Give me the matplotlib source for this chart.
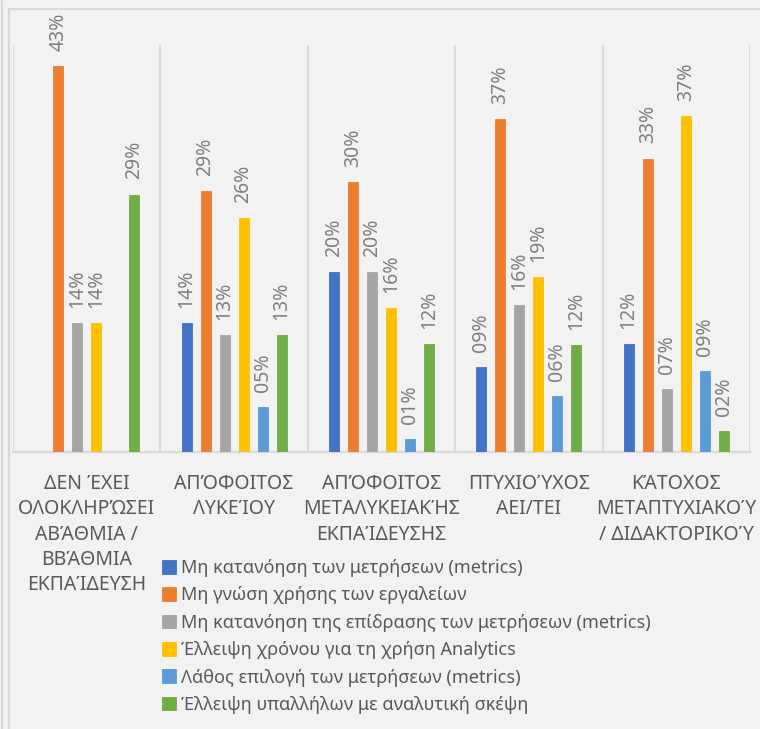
import numpy as np
import matplotlib
matplotlib.use("Agg")
import matplotlib.pyplot as plt
from matplotlib.lines import Line2D

plt.rcParams['font.family'] = ['Noto Sans', 'DejaVu Sans']

categories = [
    "ΔΕΝ ΈΧΕΙ\nΟΛΟΚΛΗΡΏΣΕΙ\nΑΒΆΘΜΙΑ /\nΒΒΆΘΜΙΑ\nΕΚΠΑΊΔΕΥΣΗ",
    "ΑΠΌΦΟΙΤΟΣ\nΛΥΚΕΊΟΥ",
    "ΑΠΌΦΟΙΤΟΣ\nΜΕΤΑΛΥΚΕΙΑΚΉΣ\nΕΚΠΑΊΔΕΥΣΗΣ",
    "ΠΤΥΧΙΟΎΧΟΣ\nΑΕΙ/ΤΕΙ",
    "ΚΆΤΟΧΟΣ\nΜΕΤΑΠΤΥΧΙΑΚΟΎ\n/ ΔΙΔΑΚΤΟΡΙΚΟΎ",
]
series_names = [
    "Μη κατανόηση των μετρήσεων (metrics)",
    "Μη γνώση χρήσης των εργαλείων",
    "Μη κατανόηση της επίδρασης των μετρήσεων (metrics)",
    "Έλλειψη χρόνου για τη χρήση Analytics",
    "Λάθος επιλογή των μετρήσεων (metrics)",
    "Έλλειψη υπαλλήλων με αναλυτική σκέψη",
]
s_metrics = [np.nan, 0.143, 0.20, 0.094, 0.12]
s_tools = [0.429, 0.29, 0.30, 0.37, 0.326]
s_impact = [0.143, 0.13, 0.20, 0.163, 0.07]
s_time = [0.143, 0.26, 0.16, 0.194, 0.373]
s_wrong = [np.nan, 0.05, 0.014, 0.062, 0.09]
s_staff = [0.286, 0.13, 0.12, 0.119, 0.023]
series = [s_metrics, s_tools, s_impact, s_time, s_wrong, s_staff]
colors = ["#4472C4", "#ED7D31", "#A5A5A5", "#FFC000", "#5B9BD5", "#70AD47"]

BG = "#F2F2F2"
W, H = 760, 729
fig = plt.figure(figsize=(W / 100, H / 100), dpi=100, facecolor=BG)
ax = fig.add_axes([13 / W, 1 - 452 / H, (750 - 13) / W, (452 - 45) / H])
ax.set_facecolor(BG)

x = np.arange(len(categories))
step = 0.129
width = 0.068
for i, (vals, c, name) in enumerate(zip(series, colors, series_names)):
    offs = (i - 2.5) * step
    v = np.array(vals, dtype=float)
    ax.bar(x + offs, np.nan_to_num(v), width=width, color=c,
           edgecolor=c, linewidth=0.6, label=name, zorder=3)
    for xi, vi in zip(x, v):
        if np.isnan(vi):
            continue
        ax.annotate("{:02d}%".format(int(round(vi * 100))), (xi + offs, vi),
                    xytext=(0, 11), textcoords="offset points",
                    rotation=90, ha="center", va="bottom",
                    fontsize=14, color="#7F7F7F", annotation_clip=False)

ax.set_xlim(-0.5, len(categories) - 0.5)
ax.set_ylim(0, 0.4522)
ax.set_yticks([])
ax.set_xticks(x)
ax.set_xticklabels(categories, fontsize=14, color="#595959", linespacing=1.35)
ax.tick_params(axis="x", length=0, pad=16)
ax.set_xticks(np.arange(-0.5, len(categories)), minor=True)
ax.tick_params(axis="x", which="minor", length=0)
ax.grid(axis="x", which="minor", color="#D9D9D9", linewidth=1.5, zorder=0)
for s in ["top", "left", "right"]:
    ax.spines[s].set_visible(False)
ax.spines["bottom"].set_color("#D9D9D9")
ax.spines["bottom"].set_linewidth(1.5)

fig.legend(loc="upper left", bbox_to_anchor=(162 / W, 1 - 559 / H),
           frameon=False, fontsize=13, labelcolor="#595959",
           handlelength=0.78, handleheight=0.78, handletextpad=0.25,
           labelspacing=0.52, borderpad=0, borderaxespad=0)

# outer frame lines
fc = "#D9D9D9"
fig.add_artist(Line2D([2 / W, 2 / W], [0, 1], color=fc, linewidth=1.5))
fig.add_artist(Line2D([8.5 / W, 8.5 / W], [0, 1 - 8.5 / H], color=fc, linewidth=1.5))
fig.add_artist(Line2D([8.5 / W, 1], [1 - 8.5 / H, 1 - 8.5 / H], color=fc, linewidth=1.5))

fig.savefig("out.png", dpi=100, facecolor=BG)
